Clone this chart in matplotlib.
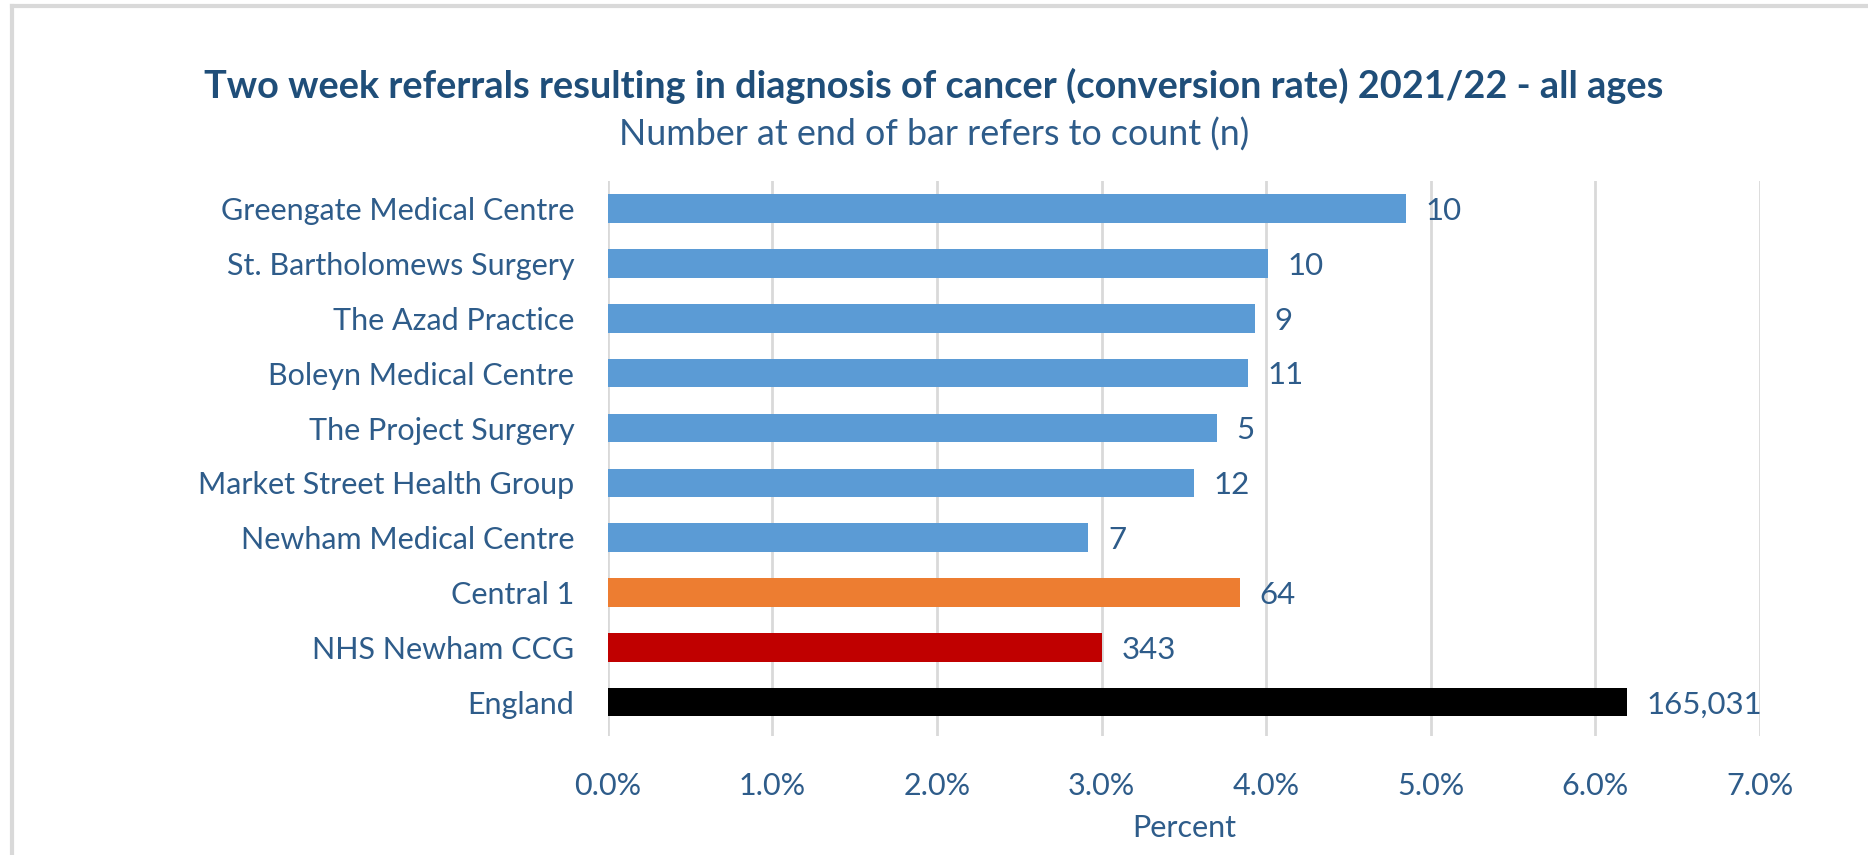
import matplotlib.pyplot as plt
from matplotlib.lines import Line2D

# Data
practices = ['Greengate Medical Centre', 'St. Bartholomews Surgery', 'The Azad Practice',
             'Boleyn Medical Centre', 'The Project Surgery', 'Market Street Health Group',
             'Newham Medical Centre', 'Central 1', 'NHS Newham CCG', 'England']
rates = [4.85, 4.01, 3.93, 3.89, 3.70, 3.56, 2.92, 3.84, 3.00, 6.19]
counts = ['10', '10', '9', '11', '5', '12', '7', '64', '343', '165,031']
bar_colors = ['#5B9BD5'] * 7 + ['#ED7D31', '#C00000', '#000000']
x_ticks = [0, 1, 2, 3, 4, 5, 6, 7]

text_col = '#2E5C8A'
title_col = '#1F4E79'

plt.rcParams['font.family'] = ['Lato', 'DejaVu Sans']

fig = plt.figure(figsize=(18.68, 8.55), dpi=100)
ax = fig.add_axes([0.3253, 0.139, 0.6169, 0.649])

ypos = list(range(len(practices)))
ax.barh(ypos, rates, height=0.52, color=bar_colors, zorder=3)

for y, r, c in zip(ypos, rates, counts):
    ax.text(r + 0.12, y + 0.04, c, va='center', ha='left', fontsize=22.5, color=text_col)

ax.set_xlim(0, 7)
ax.set_ylim(9.62, -0.5)
ax.set_xticks(x_ticks)
ax.set_xticklabels([f'{t:.1f}%' for t in x_ticks])
ax.set_yticks(ypos)
ax.set_yticklabels(practices)
ax.tick_params(axis='both', length=0, labelsize=22, colors=text_col)
ax.tick_params(axis='x', pad=26)
ax.tick_params(axis='y', pad=24)
ax.grid(axis='x', color='#D9D9D9', linewidth=2, zorder=0)
for s in ax.spines.values():
    s.set_visible(False)

ax.set_xlabel('Percent', fontsize=22, color=text_col, labelpad=10)

fig.text(0.5, 0.900, 'Two week referrals resulting in diagnosis of cancer (conversion rate) 2021/22 - all ages',
         ha='center', va='center', fontsize=27.3, fontweight='bold', color=title_col)
fig.text(0.5, 0.843, 'Number at end of bar refers to count (n)',
         ha='center', va='center', fontsize=25.8, color=text_col)

# light frame along the top and left edges
fig.add_artist(Line2D([0.0065, 1.0], [0.9935, 0.9935], color='#D9D9D9', linewidth=3))
fig.add_artist(Line2D([0.0065, 0.0065], [0.0, 0.9935], color='#D9D9D9', linewidth=3))

fig.savefig('out.png', dpi=100)
